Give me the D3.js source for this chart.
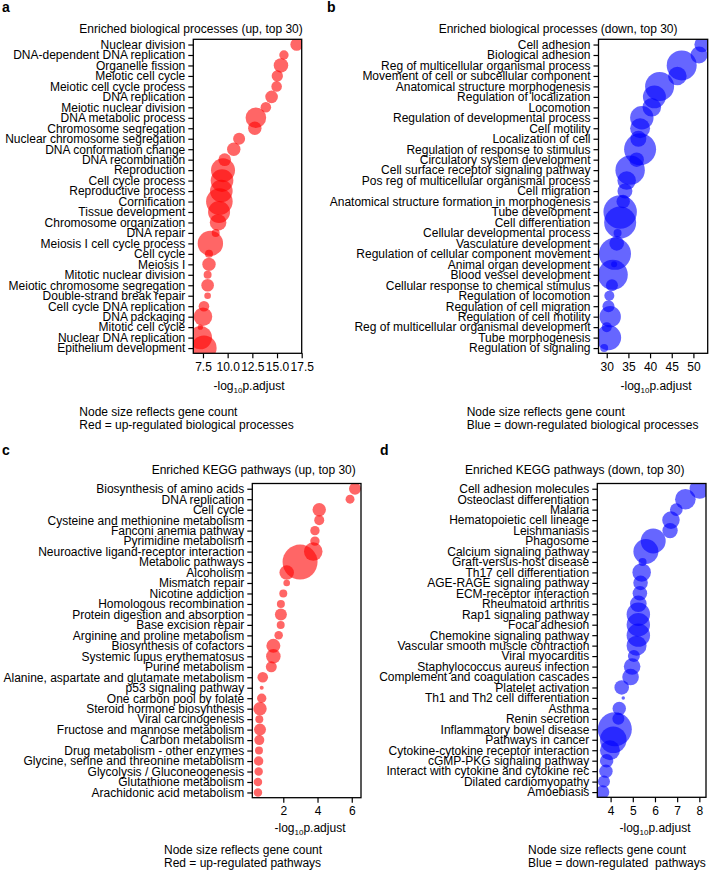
<!DOCTYPE html>
<html>
<head>
<meta charset="utf-8">
<script src="https://cdn.jsdelivr.net/npm/d3@7"></script>
<style>
  body { margin: 0; background: #fff; }
  text { fill: #000; }
</style>
</head>
<body>
<script>
// a: GO BP up
const upBpTerms = ["Nuclear division", "DNA-dependent DNA replication", "Organelle fission", "Meiotic cell cycle",
  "Meiotic cell cycle process", "DNA replication", "Meiotic nuclear division", "DNA metabolic process",
  "Chromosome segregation", "Nuclear chromosome segregation", "DNA conformation change", "DNA recombination",
  "Reproduction", "Cell cycle process", "Reproductive process", "Cornification", "Tissue development",
  "Chromosome organization", "DNA repair", "Meiosis I cell cycle process", "Cell cycle", "Meiosis I",
  "Mitotic nuclear division", "Meiotic chromosome segregation", "Double-strand break repair",
  "Cell cycle DNA replication", "DNA packaging", "Mitotic cell cycle", "Nuclear DNA replication",
  "Epithelium development"];
const upBpLogP = [16.99, 15.7, 15.4, 15.03, 14.96, 14.45, 13.87, 12.86, 12.75, 11.16, 10.62, 9.7, 9.53, 9.43,
  9.36, 9.16, 9.13, 9.03, 8.79, 8.25, 8.11, 8.11, 7.97, 7.97, 7.97, 7.6, 7.5, 7.23, 7.23, 7.6];
const upBpCount = [40, 22, 53, 32, 28, 40, 28, 106, 45, 36, 45, 40, 144, 128, 128, 177, 121, 69, 16, 161, 16, 45,
  16, 40, 11, 28, 86, 7, 137, 161];

// b: GO BP down
const downBpTerms = ["Cell adhesion", "Biological adhesion", "Reg of multicellular organismal process",
  "Movement of cell or subcellular component", "Anatomical structure morphogenesis", "Regulation of localization",
  "Locomotion", "Regulation of developmental process", "Cell motility", "Localization of cell",
  "Regulation of response to stimulus", "Circulatory system development", "Cell surface receptor signaling pathway",
  "Pos reg of multicellular organismal process", "Cell migration", "Anatomical structure formation in morphogenesis",
  "Tube development", "Cell differentiation", "Cellular developmental process", "Vasculature development",
  "Regulation of cellular component movement", "Animal organ development", "Blood vessel development",
  "Cellular response to chemical stimulus", "Regulation of locomotion", "Regulation of cell migration",
  "Regulation of cell motility", "Reg of multicellular organismal development", "Tube morphogenesis",
  "Regulation of signaling"];
const downBpLogP = [52.0, 51.3, 47.3, 46.3, 42.2, 41.0, 40.4, 38.1, 37.7, 37.3, 37.7, 36.9, 35.4, 34.6, 34.2, 33.8,
  33.1, 33.1, 32.5, 32.3, 31.9, 31.7, 31.4, 31.2, 30.6, 30.4, 30.8, 30.0, 30.4, 29.4];
const downBpCount = [59, 72, 225, 86, 210, 132, 86, 137, 100, 64, 256, 53, 216, 86, 56, 45, 279, 256, 16, 53, 256,
  9, 225, 36, 25, 36, 114, 25, 161, 16];

// c: KEGG up
const upKeggTerms = ["Biosynthesis of amino acids", "DNA replication", "Cell cycle", "Cysteine and methionine metabolism",
  "Fanconi anemia pathway", "Pyrimidine metabolism", "Neuroactive ligand-receptor interaction", "Metabolic pathways",
  "Alcoholism", "Mismatch repair", "Nicotine addiction", "Homologous recombination", "Protein digestion and absorption",
  "Base excision repair", "Arginine and proline metabolism", "Biosynthesis of cofactors", "Systemic lupus erythematosus",
  "Purine metabolism", "Alanine, aspartate and glutamate metabolism", "p53 signaling pathway",
  "One carbon pool by folate", "Steroid hormone biosynthesis", "Viral carcinogenesis", "Fructose and mannose metabolism",
  "Carbon metabolism", "Drug metabolism - other enzymes", "Glycine, serine and threonine metabolism",
  "Glycolysis / Gluconeogenesis", "Glutathione metabolism", "Arachidonic acid metabolism"];
const upKeggLogP = [6.19, 5.9, 4.1, 4.1, 3.85, 3.85, 3.75, 2.98, 2.2, 2.2, 2.0, 1.86, 1.86, 1.85, 1.73, 1.42, 1.42,
  1.3, 0.8, 0.74, 0.74, 0.64, 0.6, 0.64, 0.6, 0.58, 0.56, 0.56, 0.52, 0.52];
const upKeggCount = [36, 20, 45, 25, 22, 22, 86, 306, 53, 11, 16, 16, 36, 16, 18, 49, 53, 30, 28, 4, 22, 45, 16, 36,
  25, 16, 22, 18, 18, 18];

// d: KEGG down
const downKeggTerms = ["Cell adhesion molecules", "Osteoclast differentiation", "Malaria", "Hematopoietic cell lineage",
  "Leishmaniasis", "Phagosome", "Calcium signaling pathway", "Graft-versus-host disease", "Th17 cell differentiation",
  "AGE-RAGE signaling pathway", "ECM-receptor interaction", "Rheumatoid arthritis", "Rap1 signaling pathway",
  "Focal adhesion", "Chemokine signaling pathway", "Vascular smooth muscle contraction", "Viral myocarditis",
  "Staphylococcus aureus infection", "Complement and coagulation cascades", "Platelet activation",
  "Th1 and Th2 cell differentiation", "Asthma", "Renin secretion", "Inflammatory bowel disease", "Pathways in cancer",
  "Cytokine-cytokine receptor interaction", "cGMP-PKG signaling pathway", "Interact with cytokine and cytokine rec",
  "Dilated cardiomyopathy", "Amoebiasis"];
const downKeggLogP = [8.01, 7.37, 6.96, 6.72, 6.68, 5.92, 5.59, 5.44, 5.4, 5.35, 5.32, 5.25, 5.25, 5.25, 5.25, 5.17,
  5.05, 4.97, 4.9, 4.5, 4.57, 4.39, 4.35, 4.19, 4.12, 3.97, 3.82, 3.79, 3.7, 3.64];
const downKeggCount = [100, 106, 40, 77, 59, 156, 156, 16, 86, 53, 53, 69, 137, 137, 137, 100, 36, 69, 69, 53, 3, 45,
  36, 289, 177, 100, 45, 45, 36, 45];

const RED = "#ff0000", BLUE = "#0000ff";

const panels = [
  { id: "a", letter: [2, 12], title: "Enriched biological processes (up, top 30)", titlePos: [79.3, 32.6],
    box: [193.3, 301.7, 39.3, 353.3], domain: [6.52, 17.5], ticks: [7.5, 10, 12.5, 15, 17.5], fmt: ".1f",
    terms: upBpTerms, values: upBpLogP, counts: upBpCount, color: RED, xlab: [249, 390],
    notes: ["Node size reflects gene count", "Red = up-regulated biological processes"], notePos: [79.3, 416.3] },
  { id: "b", letter: [327, 12], title: "Enriched biological processes (down, top 30)", titlePos: [438.7, 32.6],
    box: [598.5, 707.7, 39.3, 353.3], domain: [28.1, 53.3], ticks: [30, 35, 40, 45, 50], fmt: "d",
    terms: downBpTerms, values: downBpLogP, counts: downBpCount, color: BLUE, xlab: [656, 390],
    notes: ["Node size reflects gene count", "Blue = down-regulated biological processes"], notePos: [466.7, 416.3] },
  { id: "c", letter: [2, 455], title: "Enriched KEGG pathways (up, top 30)", titlePos: [151.7, 474.3],
    box: [252.3, 361, 483.5, 797.7], domain: [0.19, 6.54], ticks: [2, 4, 6], fmt: "d",
    terms: upKeggTerms, values: upKeggLogP, counts: upKeggCount, color: RED, xlab: [310, 832],
    notes: ["Node size reflects gene count", "Red = up-regulated pathways"], notePos: [164, 854.3] },
  { id: "d", letter: [380, 455], title: "Enriched KEGG pathways (down, top 30)", titlePos: [465, 474.3],
    box: [597.3, 706, 483.5, 797.3], domain: [3.40, 8.30], ticks: [4, 5, 6, 7, 8], fmt: "d",
    terms: downKeggTerms, values: downKeggLogP, counts: downKeggCount, color: BLUE, xlab: [655, 832],
    notes: ["Node size reflects gene count", "Blue = down-regulated  pathways"], notePos: [528, 854.3] }
];

const svg = d3.select("body").append("svg")
  .attr("width", 709).attr("height", 871)
  .style("font-family", "'Liberation Sans', Arial, Helvetica, sans-serif");

const defs = svg.append("defs");
const size = d3.scaleSqrt().domain([0, 400]).range([0, 20]);

panels.forEach(p => {
  const [bx0, bx1, by0, by1] = p.box;
  const x = d3.scaleLinear().domain(p.domain).range([bx0, bx1]);
  const y = d3.scalePoint().domain(p.terms).range([by0, by1]).padding(0.5);
  const g = svg.append("g");

  g.append("text").attr("x", p.letter[0]).attr("y", p.letter[1])
    .style("font-size", "14px").style("font-weight", "bold").text(p.id);

  g.append("text").attr("x", p.titlePos[0]).attr("y", p.titlePos[1])
    .style("font-size", "12px").text(p.title);

  defs.append("clipPath").attr("id", "clip-" + p.id)
    .append("rect").attr("x", bx0).attr("y", by0).attr("width", bx1 - bx0).attr("height", by1 - by0);

  const rows = p.terms.map((t, i) => ({ term: t, value: p.values[i], count: p.counts[i] }));
  g.append("g").attr("clip-path", `url(#clip-${p.id})`)
    .selectAll("circle").data(rows).join("circle")
    .attr("cx", d => x(d.value))
    .attr("cy", d => y(d.term))
    .attr("r", d => size(d.count))
    .attr("fill", p.color)
    .attr("fill-opacity", 0.6);

  const yAxis = g.append("g").attr("transform", `translate(${bx0},0)`)
    .call(d3.axisLeft(y).tickSize(5).tickPadding(3));
  const xAxis = g.append("g").attr("transform", `translate(0,${by1})`)
    .call(d3.axisBottom(x).tickValues(p.ticks).tickFormat(d3.format(p.fmt)).tickSize(5).tickPadding(4));
  [yAxis, xAxis].forEach(ax => {
    ax.select(".domain").remove();
    ax.selectAll(".tick line").attr("stroke", "#000").attr("stroke-width", 1.2);
    ax.selectAll("text").style("font-size", "12px").attr("fill", "#000").style("font-family", null);
    ax.attr("font-family", null).attr("font-size", null);
  });

  g.append("rect").attr("x", bx0).attr("y", by0)
    .attr("width", bx1 - bx0).attr("height", by1 - by0)
    .attr("fill", "none").attr("stroke", "#000").attr("stroke-width", 1.3);

  const xl = g.append("text").attr("x", p.xlab[0]).attr("y", p.xlab[1])
    .attr("text-anchor", "middle").style("font-size", "12px");
  xl.append("tspan").text("-log");
  xl.append("tspan").attr("dy", 3).style("font-size", "8px").text("10");
  xl.append("tspan").attr("dy", -3).text("p.adjust");

  p.notes.forEach((n, i) => {
    g.append("text").attr("x", p.notePos[0]).attr("y", p.notePos[1] + i * 12.7)
      .style("font-size", "12px").style("white-space", "pre").text(n);
  });
});
</script>
</body>
</html>
